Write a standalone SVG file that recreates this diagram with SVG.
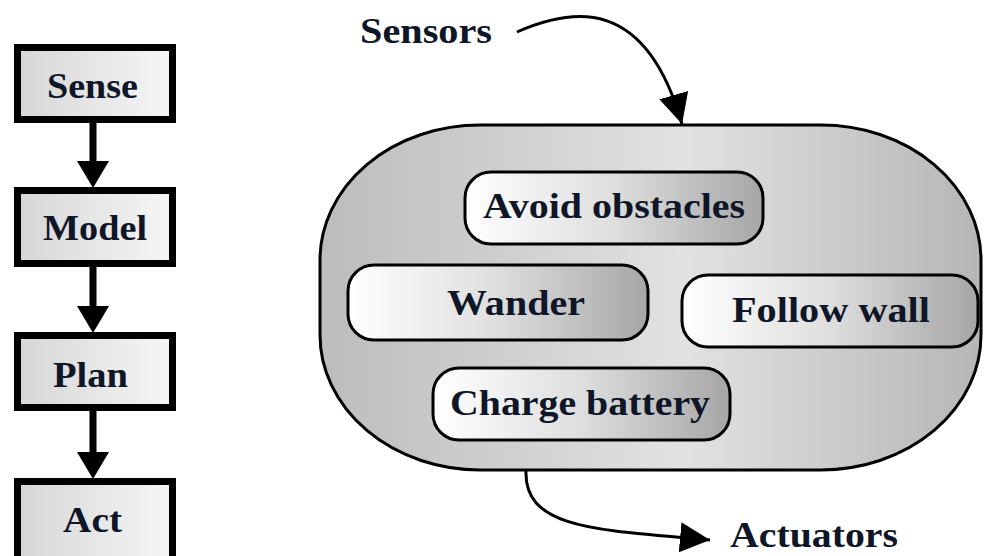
<svg xmlns="http://www.w3.org/2000/svg" width="984" height="556" viewBox="0 0 984 556">
<defs>
<linearGradient id="boxg" x1="0" y1="0" x2="1" y2="0">
<stop offset="0" stop-color="#d6d6d6"/><stop offset="1" stop-color="#f6f6f6"/>
</linearGradient>
<linearGradient id="capg" x1="0" y1="0" x2="1" y2="0">
<stop offset="0" stop-color="#bcbcbc"/><stop offset="0.55" stop-color="#e2e2e2"/><stop offset="1" stop-color="#b6b6b6"/>
</linearGradient>
<linearGradient id="pillg" x1="0" y1="0" x2="1" y2="0">
<stop offset="0" stop-color="#ffffff"/><stop offset="0.5" stop-color="#dedede"/><stop offset="1" stop-color="#a6a6a6"/>
</linearGradient>
<marker id="ah" markerUnits="userSpaceOnUse" markerWidth="30" markerHeight="30" viewBox="0 0 30 30" refX="30" refY="15" orient="auto">
<path d="M0,0 L30,15 L0,30 z" fill="#000"/>
</marker>
<marker id="ahb" markerUnits="userSpaceOnUse" markerWidth="27" markerHeight="32" viewBox="0 0 27 32" refX="0" refY="16" orient="auto">
<path d="M0,0 L27,16 L0,32 z" fill="#000"/>
</marker>
</defs>
<style>
.box{fill:url(#boxg);stroke:#000;stroke-width:7}
.pill{fill:url(#pillg);stroke:#000;stroke-width:3}
.t{font-family:"Liberation Serif","Times New Roman",serif;font-weight:bold;font-size:35px;fill:#0e1628}
.c{fill:none;stroke:#000;stroke-width:3}
.cb{fill:none;stroke:#000;stroke-width:7}
</style>
<rect width="984" height="556" fill="#fff"/>

<g id="sense"><rect class="box" x="17.5" y="47.5" width="155" height="72"/><text class="t" x="47" y="98" textLength="91" lengthAdjust="spacingAndGlyphs">Sense</text></g>
<g id="model"><rect class="box" x="17.5" y="190.5" width="155" height="73"/><text class="t" x="43" y="240" textLength="104" lengthAdjust="spacingAndGlyphs">Model</text></g>
<g id="plan"><rect class="box" x="17.5" y="335.5" width="155" height="72"/><text class="t" x="53" y="387" textLength="75" lengthAdjust="spacingAndGlyphs">Plan</text></g>
<g id="act"><rect class="box" x="17.5" y="481.5" width="155" height="90"/><text class="t" x="63" y="532" textLength="59" lengthAdjust="spacingAndGlyphs">Act</text></g>

<g id="behaviours">
<rect x="320" y="125" width="661" height="345" rx="160" ry="135" fill="url(#capg)" stroke="#000" stroke-width="3"/>
</g>
<g id="avoid"><rect class="pill" x="465" y="172" width="298" height="72" rx="26" ry="26"/><text class="t" x="483" y="218" textLength="262" lengthAdjust="spacingAndGlyphs">Avoid obstacles</text></g>
<g id="wander"><rect class="pill" x="348" y="265" width="300" height="75" rx="26" ry="26"/><text class="t" x="447" y="315" textLength="138" lengthAdjust="spacingAndGlyphs">Wander</text></g>
<g id="follow"><rect class="pill" x="682" y="275" width="296" height="72" rx="26" ry="26"/><text class="t" x="732" y="322" textLength="198" lengthAdjust="spacingAndGlyphs">Follow wall</text></g>
<g id="charge"><rect class="pill" x="433" y="368" width="297" height="72" rx="26" ry="26"/><text class="t" x="450" y="415" textLength="260" lengthAdjust="spacingAndGlyphs">Charge battery</text></g>

<g id="sensors"><text class="t" x="360" y="43" textLength="132" lengthAdjust="spacingAndGlyphs">Sensors</text></g>
<g id="actuators"><text class="t" x="730" y="547" font-size="34" textLength="168" lengthAdjust="spacingAndGlyphs">Actuators</text></g>

<g id="connectors">
<path class="cb" d="M93 123 L93 161" marker-end="url(#ahb)"/>
<path class="cb" d="M93 267 L93 306" marker-end="url(#ahb)"/>
<path class="cb" d="M93 411 L93 452" marker-end="url(#ahb)"/>
<path class="c" d="M517 32 C572 8, 645 -5, 682 124" marker-end="url(#ah)"/>
<path class="c" d="M526 471 C524 530, 600 530, 710 540" marker-end="url(#ah)"/>
</g>
</svg>
